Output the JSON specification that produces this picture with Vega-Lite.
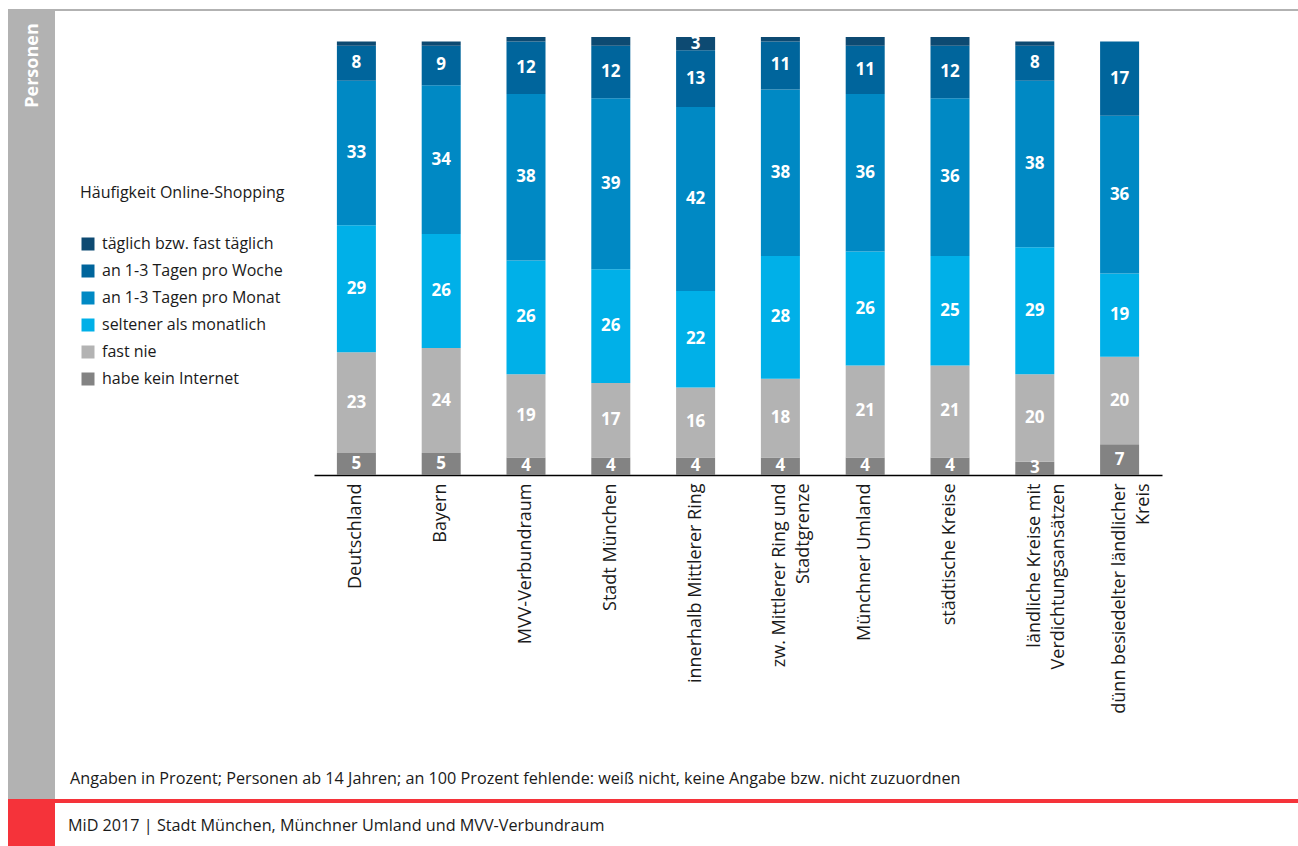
{
  "$schema": "https://vega.github.io/schema/vega-lite/v6.json",
  "autosize": {"type": "none"},
  "padding": {"left": 314, "top": 37, "right": 136, "bottom": 371},
  "width": 848,
  "height": 438,
  "background": "white",
  "config": {
    "font": "Open Sans",
    "view": {"stroke": null}
  },
  "datasets": {
    "shop": [
      {"region": "Deutschland", "cat": "habe kein Internet", "order": 1, "value": 5},
      {"region": "Deutschland", "cat": "fast nie", "order": 2, "value": 23},
      {"region": "Deutschland", "cat": "seltener als monatlich", "order": 3, "value": 29},
      {"region": "Deutschland", "cat": "an 1-3 Tagen pro Monat", "order": 4, "value": 33},
      {"region": "Deutschland", "cat": "an 1-3 Tagen pro Woche", "order": 5, "value": 8},
      {"region": "Deutschland", "cat": "täglich bzw. fast täglich", "order": 6, "value": 1},
      {"region": "Bayern", "cat": "habe kein Internet", "order": 1, "value": 5},
      {"region": "Bayern", "cat": "fast nie", "order": 2, "value": 24},
      {"region": "Bayern", "cat": "seltener als monatlich", "order": 3, "value": 26},
      {"region": "Bayern", "cat": "an 1-3 Tagen pro Monat", "order": 4, "value": 34},
      {"region": "Bayern", "cat": "an 1-3 Tagen pro Woche", "order": 5, "value": 9},
      {"region": "Bayern", "cat": "täglich bzw. fast täglich", "order": 6, "value": 1},
      {"region": "MVV-Verbundraum", "cat": "habe kein Internet", "order": 1, "value": 4},
      {"region": "MVV-Verbundraum", "cat": "fast nie", "order": 2, "value": 19},
      {"region": "MVV-Verbundraum", "cat": "seltener als monatlich", "order": 3, "value": 26},
      {"region": "MVV-Verbundraum", "cat": "an 1-3 Tagen pro Monat", "order": 4, "value": 38},
      {"region": "MVV-Verbundraum", "cat": "an 1-3 Tagen pro Woche", "order": 5, "value": 12},
      {"region": "MVV-Verbundraum", "cat": "täglich bzw. fast täglich", "order": 6, "value": 2},
      {"region": "Stadt München", "cat": "habe kein Internet", "order": 1, "value": 4},
      {"region": "Stadt München", "cat": "fast nie", "order": 2, "value": 17},
      {"region": "Stadt München", "cat": "seltener als monatlich", "order": 3, "value": 26},
      {"region": "Stadt München", "cat": "an 1-3 Tagen pro Monat", "order": 4, "value": 39},
      {"region": "Stadt München", "cat": "an 1-3 Tagen pro Woche", "order": 5, "value": 12},
      {"region": "Stadt München", "cat": "täglich bzw. fast täglich", "order": 6, "value": 2},
      {"region": "innerhalb Mittlerer Ring", "cat": "habe kein Internet", "order": 1, "value": 4},
      {"region": "innerhalb Mittlerer Ring", "cat": "fast nie", "order": 2, "value": 16},
      {"region": "innerhalb Mittlerer Ring", "cat": "seltener als monatlich", "order": 3, "value": 22},
      {"region": "innerhalb Mittlerer Ring", "cat": "an 1-3 Tagen pro Monat", "order": 4, "value": 42},
      {"region": "innerhalb Mittlerer Ring", "cat": "an 1-3 Tagen pro Woche", "order": 5, "value": 13},
      {"region": "innerhalb Mittlerer Ring", "cat": "täglich bzw. fast täglich", "order": 6, "value": 3},
      {"region": "zw. Mittlerer Ring und Stadtgrenze", "cat": "habe kein Internet", "order": 1, "value": 4},
      {"region": "zw. Mittlerer Ring und Stadtgrenze", "cat": "fast nie", "order": 2, "value": 18},
      {"region": "zw. Mittlerer Ring und Stadtgrenze", "cat": "seltener als monatlich", "order": 3, "value": 28},
      {"region": "zw. Mittlerer Ring und Stadtgrenze", "cat": "an 1-3 Tagen pro Monat", "order": 4, "value": 38},
      {"region": "zw. Mittlerer Ring und Stadtgrenze", "cat": "an 1-3 Tagen pro Woche", "order": 5, "value": 11},
      {"region": "zw. Mittlerer Ring und Stadtgrenze", "cat": "täglich bzw. fast täglich", "order": 6, "value": 2},
      {"region": "Münchner Umland", "cat": "habe kein Internet", "order": 1, "value": 4},
      {"region": "Münchner Umland", "cat": "fast nie", "order": 2, "value": 21},
      {"region": "Münchner Umland", "cat": "seltener als monatlich", "order": 3, "value": 26},
      {"region": "Münchner Umland", "cat": "an 1-3 Tagen pro Monat", "order": 4, "value": 36},
      {"region": "Münchner Umland", "cat": "an 1-3 Tagen pro Woche", "order": 5, "value": 11},
      {"region": "Münchner Umland", "cat": "täglich bzw. fast täglich", "order": 6, "value": 2},
      {"region": "städtische Kreise", "cat": "habe kein Internet", "order": 1, "value": 4},
      {"region": "städtische Kreise", "cat": "fast nie", "order": 2, "value": 21},
      {"region": "städtische Kreise", "cat": "seltener als monatlich", "order": 3, "value": 25},
      {"region": "städtische Kreise", "cat": "an 1-3 Tagen pro Monat", "order": 4, "value": 36},
      {"region": "städtische Kreise", "cat": "an 1-3 Tagen pro Woche", "order": 5, "value": 12},
      {"region": "städtische Kreise", "cat": "täglich bzw. fast täglich", "order": 6, "value": 2},
      {"region": "ländliche Kreise mit Verdichtungsansätzen", "cat": "habe kein Internet", "order": 1, "value": 3},
      {"region": "ländliche Kreise mit Verdichtungsansätzen", "cat": "fast nie", "order": 2, "value": 20},
      {"region": "ländliche Kreise mit Verdichtungsansätzen", "cat": "seltener als monatlich", "order": 3, "value": 29},
      {"region": "ländliche Kreise mit Verdichtungsansätzen", "cat": "an 1-3 Tagen pro Monat", "order": 4, "value": 38},
      {"region": "ländliche Kreise mit Verdichtungsansätzen", "cat": "an 1-3 Tagen pro Woche", "order": 5, "value": 8},
      {"region": "ländliche Kreise mit Verdichtungsansätzen", "cat": "täglich bzw. fast täglich", "order": 6, "value": 1},
      {"region": "dünn besiedelter ländlicher Kreis", "cat": "habe kein Internet", "order": 1, "value": 7},
      {"region": "dünn besiedelter ländlicher Kreis", "cat": "fast nie", "order": 2, "value": 20},
      {"region": "dünn besiedelter ländlicher Kreis", "cat": "seltener als monatlich", "order": 3, "value": 19},
      {"region": "dünn besiedelter ländlicher Kreis", "cat": "an 1-3 Tagen pro Monat", "order": 4, "value": 36},
      {"region": "dünn besiedelter ländlicher Kreis", "cat": "an 1-3 Tagen pro Woche", "order": 5, "value": 17},
      {"region": "dünn besiedelter ländlicher Kreis", "cat": "täglich bzw. fast täglich", "order": 6, "value": 0}
    ]
  },
  "layer": [
    {
      "data": {"values": [{}]},
      "mark": {"type": "rect", "color": "#b2b2b2"},
      "encoding": {"x": {"value": -306}, "x2": {"value": -259}, "y": {"value": -27}, "y2": {"value": 762}}
    },
    {
      "data": {"values": [{}]},
      "mark": {"type": "rect", "color": "#b2b2b2"},
      "encoding": {"x": {"value": -306}, "x2": {"value": 984}, "y": {"value": -28}, "y2": {"value": -26}}
    },
    {
      "data": {"values": [{}]},
      "mark": {"type": "rect", "color": "#f5333a"},
      "encoding": {"x": {"value": -306}, "x2": {"value": -259}, "y": {"value": 762}, "y2": {"value": 809}}
    },
    {
      "data": {"values": [{}]},
      "mark": {"type": "rect", "color": "#f5333a"},
      "encoding": {"x": {"value": -259}, "x2": {"value": 984}, "y": {"value": 762}, "y2": {"value": 766}}
    },
    {
      "data": {"values": [{"t": "Angaben in Prozent; Personen ab 14 Jahren; an 100 Prozent fehlende: weiß nicht, keine Angabe bzw. nicht zuzuordnen"}]},
      "mark": {"type": "text", "align": "left", "baseline": "middle", "fontSize": 16.2, "color": "#1a1a1a"},
      "encoding": {"text": {"field": "t"}, "x": {"value": -244}, "y": {"value": 742}}
    },
    {
      "data": {"values": [{"t": "MiD 2017  | Stadt München, Münchner Umland und MVV-Verbundraum"}]},
      "mark": {"type": "text", "align": "left", "baseline": "middle", "fontSize": 16.2, "color": "#1a1a1a"},
      "encoding": {"text": {"field": "t"}, "x": {"value": -246}, "y": {"value": 789}}
    },
    {
      "data": {"name": "shop"},
      "mark": {"type": "bar", "clip": true},
      "encoding": {
        "x": {
          "field": "region", "type": "nominal", "sort": null,
          "scale": {"paddingInner": 0.54, "paddingOuter": 0.27},
          "axis": {
            "title": null, "ticks": false, "domainColor": "#000000", "domainWidth": 1.5,
            "labelAngle": 270, "labelAlign": "right", "labelBaseline": "middle",
            "labelFontSize": 18, "labelColor": "#1a1a1a", "labelPadding": 8, "labelLimit": 0,
            "labelLineHeight": 24,
            "labelExpr": "datum.label == 'zw. Mittlerer Ring und Stadtgrenze' ? ['zw. Mittlerer Ring und', 'Stadtgrenze'] : datum.label == 'ländliche Kreise mit Verdichtungsansätzen' ? ['ländliche Kreise mit', 'Verdichtungsansätzen'] : datum.label == 'dünn besiedelter ländlicher Kreis' ? ['dünn besiedelter ländlicher', 'Kreis'] : datum.label"
          }
        },
        "y": {
          "field": "value", "type": "quantitative", "stack": "zero",
          "scale": {"domain": [0, 100], "nice": false, "zero": true},
          "axis": {
            "title": "Personen", "labels": false, "ticks": false, "domain": false, "grid": false,
            "zindex": 2,
            "titleColor": "white", "titleFontSize": 18, "titleFontWeight": "bold",
            "titleAngle": 270, "titleAlign": "center", "titleBaseline": "alphabetic",
            "titleX": -277, "titleY": 28
          }
        },
        "order": {"field": "order", "type": "quantitative"},
        "color": {
          "field": "cat", "type": "nominal",
          "scale": {
            "domain": ["täglich bzw. fast täglich", "an 1-3 Tagen pro Woche", "an 1-3 Tagen pro Monat", "seltener als monatlich", "fast nie", "habe kein Internet"],
            "range": ["#0d4a72", "#00659c", "#0089c4", "#00b0e8", "#b3b3b3", "#838383"]
          },
          "legend": {
            "title": "Häufigkeit Online-Shopping", "orient": "none", "legendX": -234, "legendY": 148,
            "titleFontSize": 16, "titleFontWeight": "normal", "titleColor": "#1a1a1a", "titlePadding": 35, "titleLimit": 0,
            "labelFontSize": 16, "labelColor": "#1a1a1a", "labelOffset": 6, "labelLimit": 0,
            "symbolType": "square", "symbolSize": 169, "symbolStrokeWidth": 0, "symbolOpacity": 1,
            "rowPadding": 11
          }
        }
      }
    },
    {
      "data": {"name": "shop"},
      "transform": [
        {"stack": "value", "groupby": ["region"], "sort": [{"field": "order", "order": "ascending"}], "as": ["v0", "v1"]},
        {"filter": "datum.value >= 3"},
        {"calculate": "(datum.v0 + datum.v1) / 2", "as": "mid"}
      ],
      "mark": {"type": "text", "color": "white", "fontSize": 17, "fontWeight": "bold", "baseline": "middle", "align": "center", "clip": true},
      "encoding": {
        "x": {"field": "region", "type": "nominal", "sort": null},
        "y": {
          "field": "mid", "type": "quantitative",
          "axis": {
            "title": "Personen", "labels": false, "ticks": false, "domain": false, "grid": false,
            "zindex": 2,
            "titleColor": "white", "titleFontSize": 18, "titleFontWeight": "bold",
            "titleAngle": 270, "titleAlign": "center", "titleBaseline": "alphabetic",
            "titleX": -277, "titleY": 28
          }
        },
        "text": {"field": "value", "type": "quantitative"}
      }
    }
  ]
}
